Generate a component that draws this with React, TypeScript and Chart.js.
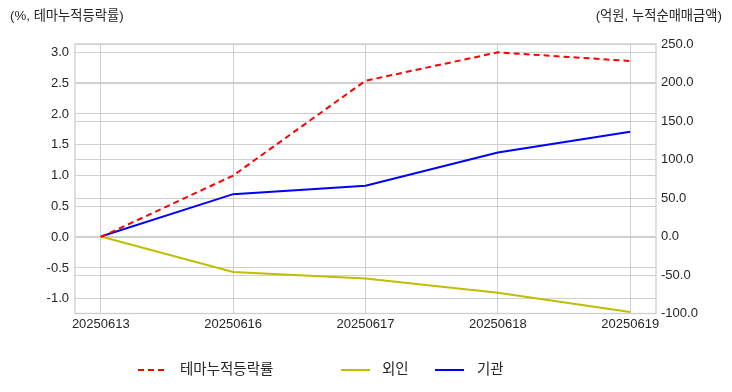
import React, { useEffect, useRef } from "react";
import { Chart, registerables } from "chart.js";

Chart.register(...registerables);

const categories = ["20250613", "20250616", "20250617", "20250618", "20250619"];
const themeReturn = [0, 1.0, 2.54, 3.0, 2.86];
const foreignNet = [0, -46, -54.5, -73, -98];
const institutionNet = [0, 55, 66, 109, 136];
const leftTicks = [-1.0, -0.5, 0.0, 0.5, 1.0, 1.5, 2.0, 2.5, 3.0];
const rightTicks = [-100, -50, 0, 50, 100, 150, 200, 250];
const seriesNames = ["테마누적등락률", "외인", "기관"];
const leftTitle = "(%, 테마누적등락률)";
const rightTitle = "(억원, 누적순매매금액)";

const FONT = '"Liberation Sans", "Noto Sans CJK KR", sans-serif';
const TEXT = "#262626";
const GRID = "#cfcfcf";

const toPoints = (arr: number[]) => arr.map((v, i) => ({ x: i, y: v }));

const decorPlugin = {
  id: "decor",
  beforeDatasetsDraw(chart: any) {
    const { ctx, chartArea } = chart;
    ctx.save();
    ctx.strokeStyle = GRID;
    ctx.lineWidth = 1.3;
    ctx.strokeRect(chartArea.left, chartArea.top, chartArea.right - chartArea.left, chartArea.bottom - chartArea.top);
    ctx.restore();
  },
  afterDraw(chart: any) {
    const { ctx } = chart;
    ctx.save();
    ctx.fillStyle = TEXT;
    ctx.font = `13.3px ${FONT}`;
    ctx.textBaseline = "middle";
    ctx.textAlign = "left";
    ctx.fillText(leftTitle, 10, 16);
    ctx.textAlign = "right";
    ctx.fillText(rightTitle, 722, 16);

    // legend
    const items = [
      { lineX: 138, textX: 180 },
      { lineX: 341, textX: 382 },
      { lineX: 435, textX: 477 },
    ];
    const y = 370;
    ctx.font = `14.5px ${FONT}`;
    ctx.textAlign = "left";
    chart.data.datasets.forEach((ds: any, i: number) => {
      const it = items[i];
      ctx.strokeStyle = ds.borderColor;
      ctx.lineWidth = ds.borderWidth;
      ctx.setLineDash(ds.borderDash || []);
      ctx.beginPath();
      ctx.moveTo(it.lineX, y);
      ctx.lineTo(it.lineX + 29, y);
      ctx.stroke();
      ctx.setLineDash([]);
      ctx.fillStyle = TEXT;
      ctx.fillText(ds.label, it.textX, y);
    });
    ctx.restore();
  },
};

export default function App() {
  const ref = useRef<HTMLCanvasElement | null>(null);

  useEffect(() => {
    document.body.style.margin = "0";
    const canvas = ref.current!;
    const chart = new Chart(canvas, {
      type: "line",
      data: {
        datasets: [
          {
            label: seriesNames[0],
            data: toPoints(themeReturn),
            yAxisID: "y",
            borderColor: "#ff0000",
            borderWidth: 2,
            borderDash: [6, 4],
            pointRadius: 0,
            tension: 0,
          },
          {
            label: seriesNames[1],
            data: toPoints(foreignNet),
            yAxisID: "y1",
            borderColor: "#bfbf00",
            borderWidth: 2,
            pointRadius: 0,
            tension: 0,
          },
          {
            label: seriesNames[2],
            data: toPoints(institutionNet),
            yAxisID: "y1",
            borderColor: "#0000ff",
            borderWidth: 2,
            pointRadius: 0,
            tension: 0,
          },
        ],
      },
      options: {
        animation: false,
        responsive: false,
        maintainAspectRatio: false,
        events: [],
        layout: { padding: { left: 0, right: 0, top: 44, bottom: 48 } },
        plugins: {
          legend: { display: false },
          tooltip: { enabled: false },
        },
        scales: {
          x: {
            type: "linear",
            min: -0.195,
            max: 4.195,
            afterBuildTicks: (s: any) => {
              s.ticks = categories.map((_, i) => ({ value: i }));
            },
            afterFit: (s: any) => {
              s.height = 30.5;
            },
            ticks: {
              autoSkip: false,
              maxRotation: 0,
              padding: 3,
              color: TEXT,
              font: { family: FONT, size: 13 },
              callback: (v: any) => categories[v as number] ?? "",
            },
            grid: { color: GRID, lineWidth: 1, drawTicks: false },
            border: { display: false },
          },
          y: {
            type: "linear",
            position: "left",
            min: -1.24,
            max: 3.136,
            afterBuildTicks: (s: any) => {
              s.ticks = leftTicks.map((v) => ({ value: v }));
            },
            afterFit: (s: any) => {
              s.width = 75;
            },
            ticks: {
              padding: 6,
              color: TEXT,
              font: { family: FONT, size: 13 },
              callback: (v: any) => Number(v).toFixed(1),
            },
            grid: { color: GRID, lineWidth: 1, drawTicks: false },
            border: { display: false },
          },
          y1: {
            type: "linear",
            position: "right",
            min: -100,
            max: 250,
            afterBuildTicks: (s: any) => {
              s.ticks = rightTicks.map((v) => ({ value: v }));
            },
            afterFit: (s: any) => {
              s.width = 76;
            },
            ticks: {
              padding: 5,
              color: TEXT,
              font: { family: FONT, size: 13 },
              callback: (v: any) => Number(v).toFixed(1),
            },
            grid: { color: GRID, lineWidth: 1, drawTicks: false, drawOnChartArea: true },
            border: { display: false },
          },
        },
      },
      plugins: [decorPlugin],
    } as any);
    return () => chart.destroy();
  }, []);

  return (
    <div style={{ width: 732, height: 392, background: "#fff" }}>
      <canvas ref={ref} width={732} height={392} style={{ display: "block", width: 732, height: 392 }} />
    </div>
  );
}
